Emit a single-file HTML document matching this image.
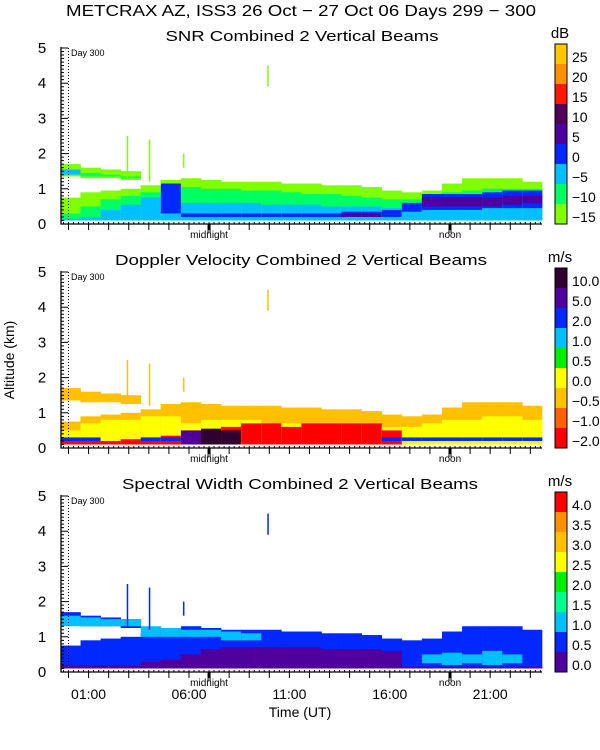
<!DOCTYPE html>
<html><head><meta charset="utf-8"><style>
body{margin:0;background:#fff}
svg{display:block}
text{font-family:"Liberation Sans",sans-serif;fill:#000}
</style></head><body>
<svg id="chart" width="600" height="750" viewBox="0 0 600 750" xmlns="http://www.w3.org/2000/svg">
<rect width="600" height="750" fill="#fff"/>
<text x="301" y="16" text-anchor="middle" font-size="16" textLength="470" lengthAdjust="spacingAndGlyphs">METCRAX AZ, ISS3  26 Oct − 27 Oct 06 Days 299 − 300</text>
<text x="14" y="360" font-size="14" text-anchor="middle" transform="rotate(-90 14 360)">Altitude (km)</text>
<text x="300" y="717" font-size="14" text-anchor="middle">Time (UT)</text>
<g id="panels"></g>
</svg>
<script>
// ---- shared time columns (hours UT, column i covers i-0.4 .. i+0.6) ----
const hours = [0,1,2,3,4,5,6,7,8,9,10,11,12,13,14,15,16,17,18,19,20,21,22,23];
const hourTicks = ["01:00","06:00","11:00","16:00","21:00"];
const hourTickVals = [1,6,11,16,21];
const altTicks = [0,1,2,3,4,5];

// ---- SNR panel (km) ----
const snrGreenTop = [0.75,0.9,0.95,1.0,1.1,1.25,1.3,1.25,1.2,1.2,1.2,1.15,1.15,1.1,1.1,1.05,0.95,0.9,0.95,1.15,1.3,1.3,1.3,1.2];
const snrSpringTop = [0.3,0.5,0.7,0.8,0.9,1.0,1.05,1.0,1.0,0.95,0.95,0.9,0.85,0.85,0.8,0.75,0.7,0.7,0.85,0.9,0.95,1.0,1.0,1.0];
const snrLightTop = [0.15,0.2,0.4,0.55,0.75,0.8,0.6,0.6,0.6,0.6,0.55,0.55,0.55,0.5,0.5,0.5,0.45,0.55,0.75,0.85,0.85,0.9,0.95,0.9];
const snrBlueBot = [0,0,0,0,0,0.3,0.2,0.2,0.2,0.2,0.2,0.2,0.2,0.2,0.2,0.2,0.2,0.35,0.4,0.4,0.4,0.45,0.45,0.45];
const snrBlueTop = [0,0,0,0,0,1.15,0.3,0.3,0.3,0.3,0.3,0.3,0.3,0.3,0.35,0.35,0.4,0.6,0.85,0.85,0.85,0.9,0.95,0.95];
const snrPurpleBot = [0,0,0,0,0,0,0,0,0,0,0,0,0,0,0.2,0.2,0,0,0.5,0.5,0.5,0.5,0.55,0.6];
const snrPurpleTop = [0,0,0,0,0,0,0,0,0,0,0,0,0,0,0.3,0.3,0,0,0.75,0.75,0.75,0.75,0.8,0.8];
const upperBot = [1.35,1.3,1.3,1.25,0,0,0,0,0,0,0,0,0,0,0,0,0,0,0,0,0,0,0,0];
const upperTop = [1.7,1.6,1.55,1.5,0,0,0,0,0,0,0,0,0,0,0,0,0,0,0,0,0,0,0,0];

// ---- Doppler panel (km) ----
const dopYellowTop = [0.5,0.7,0.8,0.8,0.9,0.9,0.7,0.8,0.8,0.8,0.7,0.7,0.7,0.7,0.7,0.7,0.6,0.6,0.7,0.8,0.8,0.9,0.9,0.8];
const dopRedTop = [0.25,0.2,0.2,0.25,0.3,0.35,0.35,0.5,0.6,0.7,0.7,0.6,0.7,0.7,0.7,0.7,0.5,0,0,0,0,0,0,0];
const dopPurpleTop = [0,0,0,0,0,0,0.5,0,0,0,0,0,0,0,0,0,0,0,0,0,0,0,0,0];
const dopDarkTop = [0,0,0,0,0,0,0,0.55,0.5,0,0,0,0,0,0,0,0,0,0,0,0,0,0,0];
const dopBlueStrip = [1,1,0,0,1,1,0,0,0,0,0,0,0,0,0,0,1,1,1,1,1,1,1,1];

// ---- Spectral width panel (km) ----
const swPurpleTop = [0.2,0.2,0.2,0.2,0.3,0.35,0.5,0.65,0.7,0.7,0.7,0.7,0.7,0.65,0.65,0.65,0.6,0.15,0.15,0.15,0.15,0.15,0.15,0.15];
const swLightBot = [1.3,1.3,1.3,1.3,1.0,1.0,1.0,1.0,0.9,0.9,0,0,0,0,0,0,0,0,0.25,0.2,0.25,0.2,0.25,0];
const swLightTop = [1.6,1.55,1.5,1.5,1.3,1.25,1.2,1.2,1.15,1.1,0,0,0,0,0,0,0,0,0.5,0.55,0.5,0.6,0.5,0];

// ---- isolated echoes [hour, bottom km, top km] ----
const spikeHours = [9.9,4.0,5.7,2.9];
const spikeBot = [3.9,1.2,1.6,1.3];
const spikeTop = [4.5,2.4,2.0,2.5];

const colorLabels = {
  snr:["−15","−10","−5","0","5","10","15","20","25"],
  dop:["−2.0","−1.0","−0.5","0.0","0.5","1.0","2.0","5.0","10.0"],
  sw:["0.0","0.5","1.0","1.5","2.0","2.5","3.0","3.5","4.0"]
};
const C = {lime:"#80ff00",spring:"#00ff60",light:"#00c0ff",blue:"#0028ff",purple:"#50009c",dark:"#500058",red:"#ff1800",orange:"#ff9000",gold:"#ffc800",
  dred:"#ff0000",dorange:"#ff6000",dgold:"#ffc000",yellow:"#ffff00",green:"#00ee00",ddark:"#300030",swgreen:"#00ff90"};
const palettes = {
  snr:[C.lime,C.spring,C.light,C.blue,C.purple,C.dark,C.red,C.orange,C.gold],
  dop:[C.dred,C.dorange,C.dgold,C.yellow,C.green,C.light,C.blue,C.purple,C.ddark],
  sw:[C.purple,C.blue,C.light,C.swgreen,C.green,C.yellow,C.dgold,C.orange,C.dred]
};

const NS="http://www.w3.org/2000/svg";
const X0=61, X1=542, KM=35.2, CBX=555;
const xOf = h => 68.5 + h*20.08;
const root = document.getElementById('panels');
function mk(tag, attrs, parent){const e=document.createElementNS(NS,tag);for(const k in attrs)e.setAttribute(k,attrs[k]);parent.appendChild(e);return e;}

function band(g, yOf, i, bot, top, color){
  if(top<=bot) return;
  const xa=Math.max(X0,xOf(hours[i]-0.4)), xb=Math.min(X1,xOf(hours[i]+0.6));
  const r=mk('rect',{x:xa,y:yOf(top),width:xb-xa+0.3,height:yOf(bot)-yOf(top),fill:color},g);
  
  
}

const panels=[
  {key:'snr',y0:224,title:"SNR Combined 2 Vertical Beams",tx:302,tw:273,unit:"dB"},
  {key:'dop',y0:448,title:"Doppler Velocity Combined 2 Vertical Beams",tx:301,tw:372,unit:"m/s"},
  {key:'sw',y0:672,title:"Spectral Width Combined 2 Vertical Beams",tx:300,tw:356,unit:"m/s"}
];

panels.forEach((p)=>{
  const g=mk('g',{},root);
  
  
  const yOf=km=>p.y0-km*KM;
  const t=mk('text',{x:p.tx,y:p.y0-183,'font-size':15,'text-anchor':'middle',textLength:p.tw,lengthAdjust:'spacingAndGlyphs'},g);
  t.textContent=p.title;
  
  
  const d=mk('g',{},g);
  
  
  hours.forEach((h,i)=>{
    if(p.key==='snr'){
      band(d,yOf,i,0.1,snrGreenTop[i],C.lime);
      band(d,yOf,i,upperBot[i],upperTop[i],C.lime);
      band(d,yOf,i,upperBot[i]+0.05,upperTop[i]-0.15,i<1?C.light:C.spring);
      band(d,yOf,i,0.1,snrSpringTop[i],C.spring);
      band(d,yOf,i,0.1,snrLightTop[i],C.light);
      band(d,yOf,i,snrBlueBot[i],snrBlueTop[i],C.blue);
      band(d,yOf,i,snrPurpleBot[i],snrPurpleTop[i],C.purple);
    } else if(p.key==='dop'){
      band(d,yOf,i,0.1,snrGreenTop[i],C.dgold);
      band(d,yOf,i,upperBot[i],upperTop[i],C.dgold);
      band(d,yOf,i,0.1,dopYellowTop[i],C.yellow);
      band(d,yOf,i,0.1,dopRedTop[i],C.dred);
      if(dopBlueStrip[i]) band(d,yOf,i,0.2,0.3,C.blue);
      band(d,yOf,i,0.1,dopPurpleTop[i],C.purple);
      band(d,yOf,i,0.1,dopDarkTop[i],C.ddark);
    } else {
      band(d,yOf,i,0.1,snrGreenTop[i],C.blue);
      band(d,yOf,i,upperBot[i],upperTop[i],C.blue);
      band(d,yOf,i,swLightBot[i],swLightTop[i],C.light);
      band(d,yOf,i,0.1,swPurpleTop[i],C.purple);
    }
  });
  spikeHours.forEach((h,k)=>{
    const s=mk('rect',{x:xOf(h),y:yOf(spikeTop[k]),width:1.5,height:(spikeTop[k]-spikeBot[k])*KM,fill:p.key==='snr'?C.lime:(p.key==='dop'?C.dgold:C.blue)},d);
    
    
  });
  const dl=mk('line',{x1:68.5,x2:68.5,y1:yOf(5),y2:p.y0,stroke:'#000','stroke-width':1,'stroke-dasharray':'1,2'},g);
  
  
  const dt=mk('text',{x:71,y:yOf(5)+8,'font-size':9},g);
  dt.textContent="Day 300";
  
  
  const ax=mk('path',{d:`M${X0} ${yOf(5)-1}V${p.y0}H${X1}`,stroke:'#000','stroke-width':1.3,fill:'none'},g);
  
  
  let tk='';
  for(let v=0;v<=50;v++){const y=yOf(v/10);tk+=`M${X0} ${y}h${v%10===0?7:3}`;}
  for(let h=-0.25;h<=23.5;h+=0.25){tk+=`M${xOf(h)} ${p.y0}v-2`;}
  for(let h=0;h<=23;h++){tk+=`M${xOf(h)} ${p.y0}v6`;}
  tk+=`M${xOf(7)-1} ${p.y0}v9M${xOf(7)+1} ${p.y0}v9M${xOf(19)-1} ${p.y0}v9M${xOf(19)+1} ${p.y0}v9`;
  const tp=mk('path',{d:tk,stroke:'#000','stroke-width':1,fill:'none'},g);
  
  
  altTicks.forEach(v=>{
    const l=mk('text',{x:42,y:yOf(v)+5,'font-size':15,'text-anchor':'middle'},g);
    l.textContent=v;
    
    
  });
  [['midnight',7],['noon',19]].forEach(([s,h])=>{
    const l=mk('text',{x:xOf(h),y:p.y0+14,'font-size':10,'text-anchor':'middle'},g);
    l.textContent=s;
    
    
  });
  if(p.key==='sw'){
    hourTickVals.forEach((h,k)=>{
      const l=mk('text',{x:xOf(h),y:p.y0+27,'font-size':14,'text-anchor':'middle'},g);
      l.textContent=hourTicks[k];
      
      
    });
  }
  const cb=mk('g',{},g);
  
  
  palettes[p.key].forEach((c,k)=>{
    const yb=p.y0-k*20;
    const r=mk('rect',{x:CBX,y:yb-20,width:12,height:20,fill:c},cb);
    
    
    const l=mk('text',{x:CBX+17,y:yb-2,'font-size':14},cb);
    l.textContent=colorLabels[p.key][k];
    
    
  });
  mk('rect',{x:CBX,y:p.y0-180,width:12,height:180,fill:'none',stroke:'#000','stroke-width':1},cb);
  const u=mk('text',{x:560,y:p.y0-186,'font-size':15,'text-anchor':'middle'},g);
  u.textContent=p.unit;
  
  
});
</script>
</body></html>
